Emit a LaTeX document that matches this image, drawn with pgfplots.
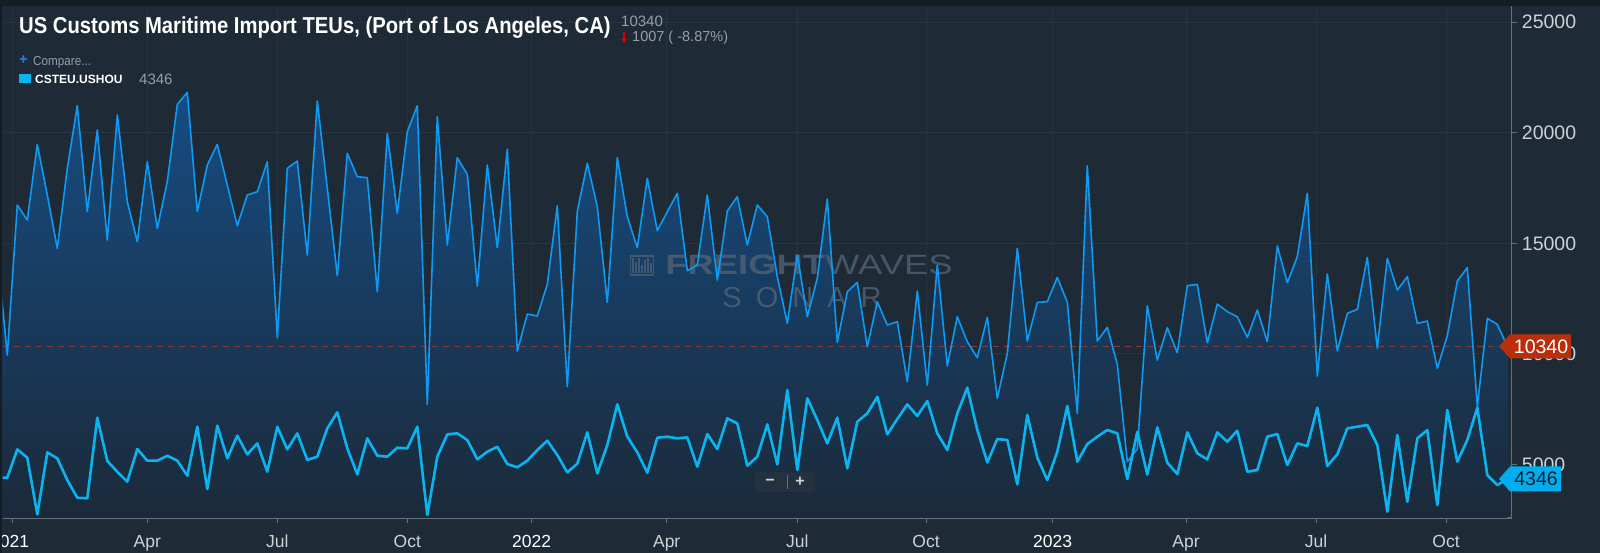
\documentclass[border=0pt]{standalone}
\usepackage{fontspec}
\setmainfont{Liberation Sans}
\newfontfamily\condf[FakeStretch=0.88]{Liberation Sans}
\newfontfamily\semif[FakeStretch=0.9]{Liberation Sans}
\newfontfamily\widef[FakeStretch=1.3]{Liberation Sans}
\usepackage{pgfplots}
\pgfplotsset{compat=1.18}
\usepackage{pgfplotstable}
\usetikzlibrary{arrows.meta,calc}

\definecolor{bg}{RGB}{30,42,53}
\definecolor{topband}{RGB}{20,28,36}
\definecolor{gridc}{RGB}{40,53,64}
\definecolor{topline}{RGB}{14,154,242}
\definecolor{botline}{RGB}{10,180,238}
\definecolor{filltop}{RGB}{22,76,130}
\definecolor{fillbot}{RGB}{27,42,58}
\definecolor{axisc}{RGB}{100,112,122}
\definecolor{labc}{RGB}{205,210,215}
\definecolor{tagred}{RGB}{186,46,12}
\definecolor{tagcyan}{RGB}{0,174,239}
\definecolor{dashred}{RGB}{140,55,60}
\definecolor{greytxt}{RGB}{150,158,166}
\definecolor{wmark}{RGB}{80,98,118}
\definecolor{plusblue}{RGB}{42,125,225}
\definecolor{zoombox}{RGB}{36,50,64}

\pgfplotstableread{
x top bot
-1 14600 4400
0 9948 4403
1 16730 5684
2 16052 5307
3 19473 2745
4 17182 5548
5 14771 5277
6 18388 4297
7 21221 3498
8 16429 3468
9 20120 7116
10 15147 5157
11 20799 4673
12 16880 4222
13 15072 5699
14 18689 5172
15 15675 5172
16 17785 5398
17 21281 5172
18 21823 4493
19 16429 6708
20 18538 3890
21 19473 6754
22 17634 5277
23 15795 6302
24 17182 5458
25 17333 5955
26 18689 4673
27 10732 6708
28 18388 5684
29 18719 6407
30 14469 5202
31 21432 5353
32 17483 6633
33 13535 7356
34 19066 5729
35 18011 4553
36 17966 6181
37 12811 5398
38 19970 5353
39 16353 5759
40 20045 5729
41 21221 6708
42 7718 2715
43 20723 5353
44 14922 6362
45 18870 6407
46 18116 6106
47 13068 5232
48 18538 5578
49 14801 5804
50 19247 5021
51 10129 4870
52 11802 5172
53 11712 5654
54 13143 6076
55 16700 5428
56 8517 4644
57 16450 5036
58 18614 6452
59 16655 4598
60 12330 5879
61 18870 7718
62 16202 6257
63 14801 5548
64 17935 4628
65 15569 6211
66 16429 6257
67 17257 6181
68 13761 6226
69 14017 4900
70 17182 6377
71 13339 5699
72 16459 7085
73 17107 6859
74 14922 4945
75 16730 5353
76 16202 6814
77 13490 5006
78 11380 8366
79 14469 4749
80 11681 7989
81 13414 7010
82 17001 5955
83 10521 7116
84 12811 4825
85 13233 6934
86 10325 7311
87 12360 8064
88 11305 6362
89 11455 7055
90 8742 7718
91 12841 7191
92 8592 7869
93 14017 6407
94 9451 5654
95 11681 7311
96 10551 8471
97 9828 6558
98 11651 5096
99 7989 6151
100 10024 6106
101 14771 4101
102 10581 7236
103 12330 5307
104 12360 4297
105 13460 5578
106 12330 7642
107 7311 5126
108 18508 5925
109 10581 6257
110 11199 6558
111 9526 6407
112 5126 4342
113 5699 6482
114 12170 4538
115 9722 6678
116 11184 5081
117 10054 4568
118 13083 6452
119 13143 5503
120 10506 5232
121 12254 6452
122 11908 6031
123 11681 6528
124 10747 4673
125 11983 4749
126 10551 6257
127 14876 6377
128 13218 4975
129 14394 5955
130 17257 5834
131 8999 7567
132 13610 4930
133 10144 5458
134 11832 6633
135 12013 6708
136 14364 6784
137 10250 5879
138 14319 2866
139 12887 6332
140 13490 3317
141 11380 6181
142 11485 6558
143 9345 3167
144 10822 7462
145 13294 5126
146 13896 6106
147 7612 7567
148 11606 4523
149 11335 4071
150 10340 4346
}\datatab

\begin{document}
\begin{tikzpicture}[x=1pt,y=1pt]
\useasboundingbox (0,0) rectangle (1600,553);
\fill[bg] (0,0) rectangle (1600,553);
\fill[topband] (0,547) rectangle (1600,553);

\begin{axis}[
  at={(2.7pt,35pt)}, anchor=south west,
  scale only axis, width=1509pt, height=512pt,
  xmin=-0.46, xmax=150.44, ymin=2581, ymax=25728,
  axis x line*=bottom, axis y line*=right,
  x axis line style={draw=axisc, line width=2pt},
  y axis line style={draw=axisc, line width=1pt},
  xtick={0.54,14,27,40,52.44,65.94,79,91.87,104.54,117.87,130.87,143.87},
  xticklabels={\hspace*{-6pt}\textcolor{white}{2021},Apr,Jul,Oct,\textcolor{white}{2022},Apr,Jul,Oct,\textcolor{white}{2023},Apr,Jul,Oct},
  ytick={5000,10000,15000,20000,25000},
  yticklabels={5000,10000,15000,20000,25000},
  grid=major, major grid style={draw=gridc, line width=0.8pt},
  tick align=outside, major tick length=5pt,
  tick style={draw=axisc, line width=1pt},
  x tick label style={font=\fontsize{17.5}{18}\selectfont, text=labc, anchor=base, yshift=-25pt, inner sep=0pt},
  y tick label style={font=\fontsize{19.5}{20}\selectfont, text=labc, anchor=west, inner sep=0pt, xshift=5pt},
]
\addplot[top color=filltop, bottom color=fillbot, draw=none] table[x=x,y=top] {\datatab} \closedcycle;

% watermark
\draw[wmark, opacity=0.75, line width=1.2pt] (axis cs:62.3,13570) rectangle ++(23pt,19pt);
\fill[wmark, opacity=0.75] (axis cs:62.3,13570) ++(2pt,2pt) rectangle ++(1.8pt,15pt);
\fill[wmark, opacity=0.75] (axis cs:62.3,13570) ++(5pt,2pt) rectangle ++(1.8pt,11pt);
\fill[wmark, opacity=0.75] (axis cs:62.3,13570) ++(8pt,2pt) rectangle ++(1.8pt,15pt);
\fill[wmark, opacity=0.75] (axis cs:62.3,13570) ++(11pt,2pt) rectangle ++(1.8pt,8pt);
\fill[wmark, opacity=0.75] (axis cs:62.3,13570) ++(14pt,2pt) rectangle ++(1.8pt,13pt);
\fill[wmark, opacity=0.75] (axis cs:62.3,13570) ++(17pt,2pt) rectangle ++(1.8pt,15pt);
\fill[wmark, opacity=0.75] (axis cs:62.3,13570) ++(20pt,2pt) rectangle ++(1.8pt,10pt);
\node[text=wmark, opacity=0.8, font=\fontsize{28}{28}\selectfont] at (axis cs:80.17,14019) {{\widef\bfseries FREIGHT}{\widef WAVES}};
\node[text=wmark, opacity=0.8, font=\fontsize{29}{29}\selectfont] at (axis cs:79.47,12550) {S\hspace{14pt}O\hspace{14pt}N\hspace{14pt}A\hspace{14pt}R};

\addplot[dashred, dash pattern=on 6pt off 5pt, line width=1pt] coordinates {(-0.46,10340) (150.44,10340)};
\addplot[topline, line width=1.6pt, line join=round] table[x=x,y=top] {\datatab};
\addplot[botline, line width=2.6pt, line join=round] table[x=x,y=bot] {\datatab};
\coordinate (redtip) at (axis cs:149.17,10340);
\coordinate (cyantip) at (axis cs:149.17,4346);
\end{axis}

% left border strip
\fill[topband] (0,0) rectangle (2.4,553);

% tags
\fill[tagred] (redtip) -- ++(11,12) -- ++(61,0) -- ++(0,-24) -- ++(-61,0) -- cycle;
\node[text=white, font=\fontsize{19.5}{20}\selectfont, inner sep=0pt] at ($(redtip)+(42,0)$) {10340};
\fill[tagcyan] (cyantip) -- ++(11,12.5) -- ++(51,0) -- ++(0,-25) -- ++(-51,0) -- cycle;
\node[text={rgb,255:red,12;green,28;blue,44}, font=\fontsize{19.5}{20}\selectfont, inner sep=0pt] at ($(cyantip)+(37,0)$) {4346};

% zoom control
\fill[zoombox, rounded corners=3pt] (755,61) rectangle (815,81);
\draw[axisc, line width=0.8pt] (787,64) -- (787,78);
\node[text=labc, font=\bfseries\fontsize{16}{16}\selectfont, inner sep=0pt] at (770,71) {\symbol{"2212}};
\node[text=labc, font=\bfseries\fontsize{16}{16}\selectfont, inner sep=0pt] at (800,71) {+};

% header
\node[anchor=base west, inner sep=0pt, text=white, font=\condf\bfseries\fontsize{23}{23}\selectfont] at (19,519) {US Customs Maritime Import TEUs, (Port of Los Angeles, CA)};
\node[anchor=base west, inner sep=0pt, text=greytxt, font=\fontsize{15}{15}\selectfont] at (621,526) {10340};
\draw[red!85!black, line width=2pt, -{Triangle[length=4pt,width=6pt]}] (624,521) -- (624,510);
\node[anchor=base west, inner sep=0pt, text=greytxt, font=\fontsize{14.5}{15}\selectfont] at (632,511) {1007 ( -8.87\%)};
\node[inner sep=0pt, text=plusblue, font=\bfseries\fontsize{15}{15}\selectfont] at (23.5,492.5) {+};
\node[anchor=base west, inner sep=0pt, text=greytxt, font=\semif\fontsize{13}{13}\selectfont] at (33,487) {Compare...};
\fill[botline] (19,470) rectangle (31,479);
\node[anchor=base west, inner sep=0pt, text=white, font=\bfseries\fontsize{12}{12}\selectfont] at (35,469) {CSTEU.USHOU};
\node[anchor=base west, inner sep=0pt, text=greytxt, font=\fontsize{15}{15}\selectfont] at (139,468) {4346};
\end{tikzpicture}
\end{document}
